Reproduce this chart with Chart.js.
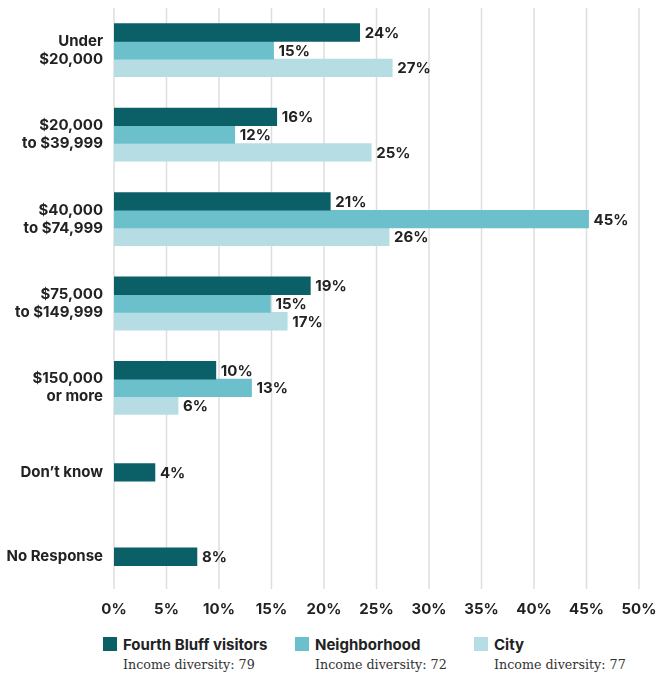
<!DOCTYPE html>
<html>
<head>
<meta charset="utf-8">
<script src="https://cdn.jsdelivr.net/npm/chart.js@4/dist/chart.umd.min.js"></script>
<style>
  body { margin: 0; background: #fff; width: 660px; height: 677px; position: relative; overflow: hidden; }
  #wrap { position: absolute; left: 0; top: 0; width: 660px; height: 625px; }
  .key { position: absolute; top: 637px; }
  .key .sw { position: absolute; left: 0; top: 0; width: 14px; height: 14px; }
  .key .name { position: absolute; left: 20px; top: -2px; white-space: nowrap;
    font: 700 15px Inter, sans-serif; color: #222; }
  .key .sub { position: absolute; left: 20px; top: 20px; white-space: nowrap;
    font: 12.7px "DejaVu Serif", serif; color: #333; }
</style>
</head>
<body>
<div id="wrap"><canvas id="chart"></canvas></div>
<div id="legend"></div>
<script>
// income brackets
const categories = [
    ['Under', '$20,000'],
    ['$20,000', 'to $39,999'],
    ['$40,000', 'to $74,999'],
    ['$75,000', 'to $149,999'],
    ['$150,000', 'or more'],
    'Don’t know',
    'No Response'
];

// bar lengths (percent) and the printed labels
const visitors = [23.4, 15.5, 20.6, 18.7, 9.7, 3.9, 7.9];
const visitorsText = ['24%', '16%', '21%', '19%', '10%', '4%', '8%'];
const neighborhood = [15.2, 11.5, 45.2, 14.9, 13.1, null, null];
const neighborhoodText = ['15%', '12%', '45%', '15%', '13%', null, null];
const city = [26.5, 24.5, 26.2, 16.5, 6.1, null, null];
const cityText = ['27%', '25%', '26%', '17%', '6%', null, null];

const seriesNames = ['Fourth Bluff visitors', 'Neighborhood', 'City'];
const diversity = ['Income diversity: 79', 'Income diversity: 72', 'Income diversity: 77'];
const xTicks = [0, 5, 10, 15, 20, 25, 30, 35, 40, 45, 50];

const colors = ['#0b5f66', '#6cc0cb', '#b5dde3'];
const FONT = 'Inter, sans-serif';

// vertical grid lines, stopping a little above the bottom
const gridLines = {
    id: 'gridLines',
    beforeDatasetsDraw(chart) {
        const ctx = chart.ctx;
        const area = chart.chartArea;
        const x = chart.scales.x;
        ctx.save();
        ctx.strokeStyle = '#dedede';
        ctx.lineWidth = 1.5;
        xTicks.forEach(v => {
            const px = x.getPixelForValue(v);
            ctx.beginPath();
            ctx.moveTo(px, area.top);
            ctx.lineTo(px, area.bottom - 10);
            ctx.stroke();
        });
        ctx.restore();
    }
};

// value labels at the end of each bar
const valueLabels = {
    id: 'valueLabels',
    afterDatasetsDraw(chart) {
        const ctx = chart.ctx;
        ctx.save();
        ctx.font = '700 15px ' + FONT;
        ctx.fillStyle = '#222';
        ctx.textAlign = 'left';
        ctx.textBaseline = 'middle';
        chart.data.datasets.forEach((ds, i) => {
            const meta = chart.getDatasetMeta(i);
            meta.data.forEach((bar, j) => {
                const txt = ds.labelsText[j];
                if (ds.data[j] == null || !txt) return;
                ctx.fillText(txt, bar.x + 5, bar.y + 1);
            });
        });
        ctx.restore();
    }
};

const ctx = document.getElementById('chart').getContext('2d');
new Chart(ctx, {
    type: 'bar',
    data: {
        labels: categories,
        datasets: [
            { label: seriesNames[0], data: visitors, labelsText: visitorsText, backgroundColor: colors[0] },
            { label: seriesNames[1], data: neighborhood, labelsText: neighborhoodText, backgroundColor: colors[1] },
            { label: seriesNames[2], data: city, labelsText: cityText, backgroundColor: colors[2] }
        ]
    },
    options: {
        indexAxis: 'y',
        responsive: true,
        maintainAspectRatio: false,
        animation: false,
        skipNull: true,
        barThickness: 17.7,
        layout: { padding: { top: 8, right: 21, left: 0, bottom: 0 } },
        plugins: {
            legend: { display: false },
            tooltip: { enabled: false }
        },
        scales: {
            x: {
                min: 0,
                max: 50,
                grid: { display: false, drawTicks: false },
                border: { display: false },
                ticks: {
                    stepSize: 5,
                    padding: 1,
                    color: '#222',
                    font: { family: FONT, size: 15, weight: '700' },
                    callback: v => v + '%'
                },
                afterFit(scale) { scale.height = 26; scale.paddingLeft = 0; scale.paddingRight = 0; }
            },
            y: {
                grid: { display: false, drawTicks: false },
                border: { display: false },
                ticks: {
                    padding: 11,
                    color: '#222',
                    font: { family: FONT, size: 15, weight: '700', lineHeight: 1.2 }
                },
                afterFit(scale) { scale.width = 114; scale.paddingTop = 0; scale.paddingBottom = 0; }
            }
        }
    },
    plugins: [gridLines, valueLabels]
});

// legend below the chart
const keyLeft = [103, 295, 474];
const legend = document.getElementById('legend');
seriesNames.forEach((name, i) => {
    const k = document.createElement('div');
    k.className = 'key';
    k.style.left = keyLeft[i] + 'px';
    k.innerHTML = '<div class="sw" style="background:' + colors[i] + '"></div>' +
        '<div class="name">' + name + '</div>' +
        '<div class="sub">' + diversity[i] + '</div>';
    legend.appendChild(k);
});
</script>
</body>
</html>
